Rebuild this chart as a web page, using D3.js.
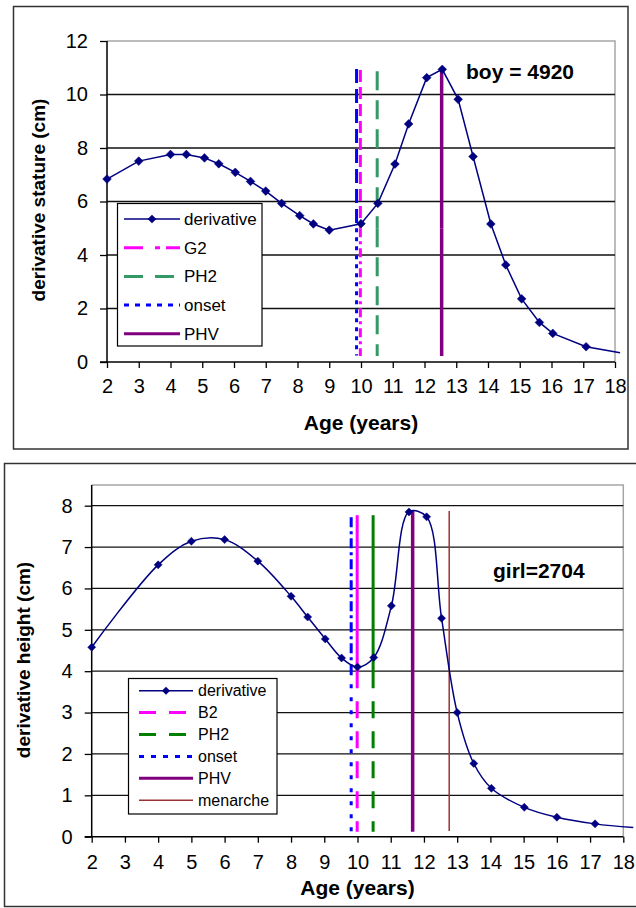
<!DOCTYPE html>
<html>
<head>
<meta charset="utf-8">
<script src="https://cdn.jsdelivr.net/npm/d3@7"></script>
<style>
  html, body { margin: 0; padding: 0; background: #fff; }
  svg { display: block; font-family: "Liberation Sans", Arial, sans-serif; }
</style>
</head>
<body>
<svg id="chart" width="636" height="908"></svg>
<script>
// ---------------- DATA ----------------
const xTicks = [2,3,4,5,6,7,8,9,10,11,12,13,14,15,16,17,18];

// Boy chart
const boyYTicks = [0, 2, 4, 6, 8, 10, 12];
const boyAge = [2, 3, 4, 4.5, 5.07, 5.52, 6.04, 6.52, 7.0, 7.5, 8.07, 8.5, 9.0, 10.0, 10.53, 11.07, 11.5, 12.07, 12.56, 13.06, 13.53, 14.09, 14.56, 15.06, 15.62, 16.04, 17.09, 18.16];
const boyVal = [6.84, 7.51, 7.76, 7.76, 7.63, 7.41, 7.09, 6.75, 6.39, 5.93, 5.47, 5.16, 4.93, 5.17, 5.93, 7.40, 8.90, 10.63, 10.94, 9.82, 7.68, 5.16, 3.63, 2.36, 1.48, 1.07, 0.57, 0.35];
const boyEvents = ["G2", "PH2", "onset", "PHV"];
const boyEventAge = [9.98, 10.51, 9.86, 12.54];
const boyEventTop = [10.92, 10.87, 10.95, 10.94];
const boyEventBottom = [0.22, 0.22, 0.24, 0.22];
const boyEventSplit = [5.0, 5.0, 5.0, 5.0];
const boyLegend = ["derivative", "G2", "PH2", "onset", "PHV"];
const boyLabel = "boy = 4920";

// Girl chart
const girlYTicks = [0, 1, 2, 3, 4, 5, 6, 7, 8];
const girlAge = [2, 4, 5, 6, 7, 8, 8.5, 9.03, 9.52, 10.0, 10.49, 11.02, 11.55, 12.08, 12.53, 13.0, 13.5, 14.03, 15.02, 16.0, 17.15, 18.3];
const girlVal = [4.58, 6.57, 7.14, 7.18, 6.66, 5.81, 5.31, 4.78, 4.32, 4.10, 4.33, 5.58, 7.85, 7.73, 5.28, 3.0, 1.77, 1.17, 0.71, 0.47, 0.31, 0.22];
const girlEvents = ["B2", "PH2", "onset", "PHV", "menarche"];
const girlEventAge = [9.99, 10.47, 9.81, 11.66, 12.76];
const girlEventTop = [7.77, 7.77, 7.72, 7.88, 7.87];
const girlEventBottom = [0.12, 0.12, 0.12, 0.12, 0.14];
const girlEventSplit = [4.0, 4.0, 4.0, 4.0, 4.0];
const girlLegend = ["derivative", "B2", "PH2", "onset", "PHV", "menarche"];
const girlLabel = "girl=2704";

// ---------------- STYLES ----------------
const curveColor = "#000080";
const styles = {
  G2:      { upper: { c: "#FF00FF", w: 3, d: "12,5" },  lower: { c: "#FF00FF", w: 3, d: "9,4,3,4" }, legend: { c: "#FF00FF", w: 3, d: "19,12,5,6" } },
  B2:      { upper: { c: "#FF00FF", w: 3, d: null },    lower: { c: "#FF00FF", w: 3, d: "17,13" },   legend: { c: "#FF00FF", w: 3, d: "17,13" } },
  PH2b:    { upper: { c: "#339966", w: 3, d: "19,10" }, lower: { c: "#339966", w: 3, d: "19,10" },   legend: { c: "#339966", w: 3, d: "19,12" } },
  PH2g:    { upper: { c: "#008000", w: 3, d: null },    lower: { c: "#008000", w: 3, d: "17,13" },   legend: { c: "#008000", w: 3, d: "17,13" } },
  onsetb:  { upper: { c: "#0000FF", w: 3, d: "14,6" },  lower: { c: "#0000FF", w: 3, d: "4,5" },     legend: { c: "#0000FF", w: 3, d: "5,6" } },
  onsetg:  { upper: { c: "#0000FF", w: 3, d: "10,4,3,4" }, lower: { c: "#0000FF", w: 3, d: "4,9" },  legend: { c: "#0000FF", w: 3, d: "5,7" } },
  PHV:     { upper: { c: "#800080", w: 3.5, d: null },  lower: { c: "#800080", w: 3.5, d: null },    legend: { c: "#800080", w: 3, d: null } },
  menarche:{ upper: { c: "#993333", w: 1.5, d: null },  lower: { c: "#993333", w: 1.5, d: null },    legend: { c: "#993333", w: 1.5, d: null } }
};
const boyStyleKey = { G2: "G2", PH2: "PH2b", onset: "onsetb", PHV: "PHV" };
const girlStyleKey = { B2: "B2", PH2: "PH2g", onset: "onsetg", PHV: "PHV", menarche: "menarche" };

const svg = d3.select("#chart");

function drawChart(cfg) {
  const g = svg.append("g");
  // outer frame
  g.append("rect").attr("x", cfg.frame[0]).attr("y", cfg.frame[1])
    .attr("width", cfg.frame[2]).attr("height", cfg.frame[3])
    .attr("fill", "#fff").attr("stroke", "#333").attr("stroke-width", 1.5);

  const x = d3.scaleLinear().domain([2, 18]).range([cfg.left, cfg.right]);
  const y = d3.scaleLinear().domain(cfg.yDomain).range([cfg.bottom, cfg.top]);

  // plot-area frame (grey top/right)
  g.append("path")
    .attr("d", `M${cfg.left},${cfg.top}H${cfg.right}V${cfg.bottom}`)
    .attr("fill", "none").attr("stroke", "#a6a6a6").attr("stroke-width", 1.5);

  // gridlines
  g.append("g").selectAll("line").data(cfg.yTicks.filter(v => v > 0 && v < cfg.yDomain[1] - 1e-9))
    .join("line")
    .attr("x1", cfg.left).attr("x2", cfg.right)
    .attr("y1", d => y(d)).attr("y2", d => y(d))
    .attr("stroke", "#111").attr("stroke-width", 1.3);

  // axes
  const yAxis = d3.axisLeft(y).tickValues(cfg.yTicks).tickSize(7).tickPadding(12).tickFormat(d3.format("d"));
  const ya = g.append("g").attr("transform", `translate(${cfg.left},0)`).call(yAxis);
  ya.select(".domain").attr("stroke", "#000").attr("stroke-width", 1.5).attr("d", `M-7,${cfg.bottom}H0V${cfg.top}`);
  ya.selectAll(".tick line").attr("stroke", "#000").attr("stroke-width", 1.3);
  ya.selectAll(".tick text").attr("font-size", 20).attr("fill", "#000")
    .attr("font-family", "'Liberation Sans', Arial, sans-serif");

  const xAxis = d3.axisBottom(x).tickValues(xTicks).tickSize(6).tickPadding(cfg.xTickPad).tickFormat(d3.format("d"));
  const xa = g.append("g").attr("transform", `translate(0,${cfg.bottom})`).call(xAxis);
  xa.select(".domain").attr("stroke", "#000").attr("stroke-width", 1.5).attr("d", `M${cfg.left},0H${cfg.right}`);
  xa.selectAll(".tick line").attr("stroke", "#000").attr("stroke-width", 1.3);
  xa.selectAll(".tick text").attr("font-size", 20).attr("fill", "#000")
    .attr("font-family", "'Liberation Sans', Arial, sans-serif");

  // event vertical lines
  const evG = g.append("g");
  cfg.events.forEach((name, i) => {
    const st = styles[cfg.styleKey[name]];
    const ax = x(cfg.eventAge[i]);
    const parts = [
      [cfg.eventTop[i], cfg.eventSplit[i], st.upper],
      [cfg.eventSplit[i], cfg.eventBottom[i], st.lower]
    ];
    parts.forEach(([v1, v2, s]) => {
      evG.append("line")
        .attr("x1", ax).attr("x2", ax)
        .attr("y1", y(v1)).attr("y2", y(v2))
        .attr("stroke", s.c).attr("stroke-width", s.w)
        .attr("stroke-dasharray", s.d);
    });
  });

  // derivative curve
  const pts = cfg.age.map((a, i) => [a, cfg.val[i]]);
  g.append("path").datum(pts)
    .attr("d", d3.line().x(d => x(d[0])).y(d => y(d[1])).curve(cfg.curve))
    .attr("fill", "none").attr("stroke", curveColor).attr("stroke-width", 1.5);

  const sym = d3.symbol().type(d3.symbolSquare).size(cfg.markerSize);
  g.append("g").selectAll("path").data(pts.filter(d => d[0] <= 18))
    .join("path")
    .attr("d", sym)
    .attr("transform", d => `translate(${x(d[0])},${y(d[1])}) rotate(45)`)
    .attr("fill", curveColor).attr("stroke", curveColor).attr("stroke-width", 0.5);

  // axis titles
  g.append("text").attr("x", (cfg.left + cfg.right) / 2).attr("y", cfg.xTitleY)
    .attr("text-anchor", "middle").attr("font-weight", "bold").attr("font-size", 21)
    .text("Age (years)");
  g.append("text")
    .attr("transform", `translate(${cfg.yTitleX},${cfg.yTitleCY}) rotate(-90)`)
    .attr("text-anchor", "middle").attr("font-weight", "bold").attr("font-size", 19)
    .text(cfg.yTitle);

  // annotation
  g.append("text").attr("x", cfg.labelPos[0]).attr("y", cfg.labelPos[1])
    .attr("font-weight", "bold").attr("font-size", 21).text(cfg.label);

  // legend
  const L = cfg.legend;
  const lg = g.append("g");
  lg.append("rect").attr("x", L.x).attr("y", L.y).attr("width", L.w).attr("height", L.h)
    .attr("fill", "#fff").attr("stroke", "#000").attr("stroke-width", 1.2);
  cfg.legendNames.forEach((name, i) => {
    const ry = L.rows[0] + i * L.step;
    if (name === "derivative") {
      lg.append("line").attr("x1", L.sx1).attr("x2", L.sx2).attr("y1", ry).attr("y2", ry)
        .attr("stroke", curveColor).attr("stroke-width", 1.5);
      lg.append("path").attr("d", sym)
        .attr("transform", `translate(${(L.sx1 + L.sx2) / 2},${ry}) rotate(45)`)
        .attr("fill", curveColor);
    } else {
      const s = styles[cfg.styleKey[name]].legend;
      lg.append("line").attr("x1", L.sx1).attr("x2", L.sx2).attr("y1", ry).attr("y2", ry)
        .attr("stroke", s.c).attr("stroke-width", s.w).attr("stroke-dasharray", s.d);
    }
    lg.append("text").attr("x", L.tx).attr("y", ry).attr("dy", "0.35em")
      .attr("font-size", L.fs).text(name);
  });
}

drawChart({
  frame: [13.5, 6.5, 614.5, 442.5],
  left: 107, right: 615, top: 41, bottom: 362,
  yDomain: [0, 12], yTicks: boyYTicks, xTickPad: 11,
  age: boyAge, val: boyVal, curve: d3.curveLinear, markerSize: 38,
  events: boyEvents, eventAge: boyEventAge, eventTop: boyEventTop,
  eventBottom: boyEventBottom, eventSplit: boyEventSplit, styleKey: boyStyleKey,
  xTitleY: 430, yTitleX: 45, yTitleCY: 200, yTitle: "derivative stature (cm)",
  label: boyLabel, labelPos: [466, 79],
  legendNames: boyLegend,
  legend: { x: 117.5, y: 203.5, w: 144.5, h: 142.5, rows: [219], step: 28.7, sx1: 124, sx2: 180, tx: 184, fs: 17 }
});

drawChart({
  frame: [4.5, 463.5, 640, 443],
  left: 91.7, right: 623.3, top: 485, bottom: 836.7,
  yDomain: [0, 8.5], yTicks: girlYTicks, xTickPad: 12,
  age: girlAge, val: girlVal, curve: d3.curveCatmullRom.alpha(0.5), markerSize: 32,
  events: girlEvents, eventAge: girlEventAge, eventTop: girlEventTop,
  eventBottom: girlEventBottom, eventSplit: girlEventSplit, styleKey: girlStyleKey,
  xTitleY: 895, yTitleX: 30, yTitleCY: 660, yTitle: "derivative height (cm)",
  label: girlLabel, labelPos: [493, 578],
  legendNames: girlLegend,
  legend: { x: 128.5, y: 678.5, w: 148.5, h: 135.5, rows: [690.7], step: 21.9, sx1: 139, sx2: 193, tx: 198, fs: 16 }
});
</script>
</body>
</html>
